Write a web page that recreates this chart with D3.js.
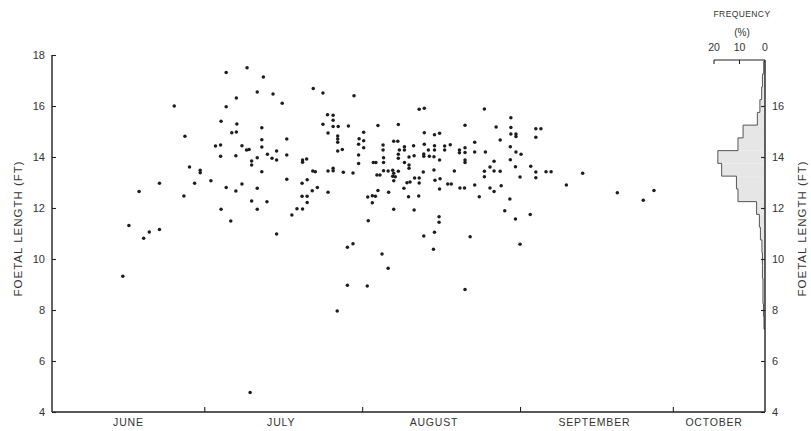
<!DOCTYPE html>
<html>
<head>
<meta charset="utf-8">
<script src="https://cdn.jsdelivr.net/npm/d3@7"></script>
<style>
  html, body { margin: 0; padding: 0; background: #fff; }
  svg { display: block; }
  text { font-family: "Liberation Sans", Arial, sans-serif; fill: #333; }
</style>
</head>
<body>
<svg id="chart" width="811" height="431"></svg>
<script>
// Catch date, as days after 1 June, and foetal length (ft) of each foetus
const catchDay = [
  38.3, 34.2, 36.2, 24.0, 34.2, 33.2, 36.3, 35.3, 36.2, 26.1, 32.1, 33.1, 37.3, 38.2, 38.7,
  33.1, 36.1, 27.0, 29.1, 29.1, 21.1, 28.0, 31.2, 34.2, 36.1, 37.3, 17.1, 25.9, 33.2, 35.1,
  15.1, 21.1, 19.1, 18.0, 13.9,
  41.5, 40.3, 43.4, 45.2, 51.3, 53.2, 59.3, 54.1, 55.2, 55.2, 53.2, 55.2, 56.2, 58.2, 54.2,
  56.1, 56.1, 56.1, 57.0, 56.1, 41.2, 46.1, 41.2, 41.2, 44.1, 46.1, 42.3, 43.2, 44.1, 40.3,
  39.2, 39.2, 41.2, 46.1, 49.2, 49.2, 50.0, 51.2, 51.7, 54.2, 55.2, 55.2, 57.2, 59.1, 49.1,
  50.1, 40.3, 51.1, 52.1, 54.2, 49.1, 50.1, 39.2, 42.2, 50.1, 40.3, 48.1, 49.2, 47.1, 44.1,
  58.0, 59.1,
  64.0, 68.0, 81.1, 61.2, 73.1, 75.1, 76.1, 60.3, 61.2, 67.1, 67.9, 60.2, 61.2, 65.0, 65.0,
  69.2, 69.2, 68.2, 71.0, 73.1, 73.9, 75.1, 75.1, 77.1, 77.1, 78.2, 80.0, 80.0, 81.1, 81.1,
  60.2, 60.2, 65.1, 65.1, 68.0, 68.0, 71.1, 70.1, 73.0, 73.0, 74.1, 75.0, 76.1, 81.1, 81.1,
  63.1, 63.6, 69.2, 70.1, 70.1, 66.0, 66.9, 68.0, 67.1, 65.1, 72.9, 75.0, 79.0, 63.8, 64.4,
  66.9, 67.4, 67.1, 71.2, 72.1, 69.7, 70.3, 72.1, 75.2, 76.2, 77.7, 78.4, 80.1, 81.0, 69.1,
  76.1, 64.0, 66.1, 62.0, 62.9, 63.5, 62.9, 70.0, 72.0, 67.1, 71.1, 76.0, 62.1, 72.1, 73.1,
  84.9, 90.1, 87.2, 90.1, 95.0, 96.0, 90.1, 91.1, 91.1, 95.0, 88.0, 83.0, 83.0, 85.1, 90.0,
  91.1, 92.1, 90.0, 86.8, 86.0, 86.8, 88.0, 84.9, 84.9, 91.0, 94.0, 95.0, 95.0, 97.0, 98.0,
  91.9, 104.2, 101.0, 83.0, 86.0, 86.8, 88.2, 83.9, 89.9, 88.9, 91.0, 93.9, 82.1, 91.9, 111.0,
  116.1, 118.2,
  64.8, 66.0, 61.9, 58.0, 73.0, 75.1, 74.9, 76.0, 81.1, 56.0, 38.9
];
const foetalLength = [
  17.50, 17.31, 16.31, 16.00, 15.97, 15.40, 15.29, 14.95, 14.98, 14.81, 14.43, 14.47, 14.44, 14.27, 14.29,
  14.03, 14.05, 13.61, 13.48, 13.38, 12.97, 12.97, 13.07, 12.80, 12.67, 12.94, 12.65, 12.47, 11.95, 11.49,
  11.31, 11.16, 11.06, 10.81, 9.32,
  17.14, 16.55, 16.47, 16.11, 16.69, 16.51, 16.40, 15.66, 15.64, 15.44, 15.28, 15.20, 15.20, 15.22, 14.94,
  14.82, 14.71, 14.58, 14.29, 14.24, 15.15, 14.71, 14.68, 14.39, 14.24, 14.08, 14.11, 13.95, 13.88, 13.97,
  13.84, 13.69, 13.42, 13.13, 13.88, 13.79, 13.92, 13.45, 13.42, 13.45, 13.56, 13.46, 13.40, 13.37, 12.97,
  13.11, 12.77, 12.68, 12.80, 12.62, 12.46, 12.46, 12.27, 12.25, 12.22, 11.95, 11.97, 11.96, 11.73, 10.98,
  10.46, 10.60,
  15.24, 15.27, 15.25, 14.97, 14.95, 14.87, 14.93, 14.72, 14.64, 14.62, 14.62, 14.50, 14.36, 14.47, 14.27,
  14.40, 14.27, 14.27, 14.44, 14.50, 14.27, 14.44, 14.27, 14.43, 14.27, 14.48, 14.27, 14.17, 14.36, 14.18,
  14.08, 13.75, 13.97, 13.78, 14.11, 13.95, 14.05, 14.00, 14.12, 14.03, 14.03, 14.01, 13.88, 13.88, 13.78,
  13.78, 13.78, 13.78, 13.69, 13.56, 13.45, 13.48, 13.44, 13.36, 13.46, 13.41, 13.49, 13.45, 13.29, 13.29,
  13.25, 13.23, 13.07, 13.18, 13.18, 12.99, 13.02, 12.98, 13.09, 13.15, 12.94, 12.94, 12.78, 12.78, 12.77,
  12.75, 12.69, 12.62, 12.43, 12.48, 12.46, 12.21, 12.44, 12.47, 11.95, 11.92, 11.66, 11.50, 15.87, 15.91,
  15.88, 15.54, 15.18, 15.16, 15.11, 15.11, 14.90, 14.90, 14.80, 14.77, 14.67, 14.58, 14.20, 14.20, 14.40,
  14.20, 14.11, 13.89, 13.83, 13.61, 13.45, 13.44, 13.44, 13.23, 13.62, 13.64, 13.41, 13.19, 13.42, 13.42,
  13.22, 13.36, 12.90, 12.90, 12.78, 12.65, 12.87, 12.44, 12.35, 11.89, 11.57, 11.75, 10.87, 10.58, 12.60,
  12.30, 12.69,
  10.20, 9.64, 8.94, 8.97, 10.90, 11.05, 10.38, 11.44, 8.80, 7.96, 4.76
];

// Frequency distribution of foetal length, 0.5 ft classes (class centre, %)
const histLength = [17.5, 17.0, 16.5, 16.0, 15.5, 15.0, 14.5, 14.0, 13.5, 13.0, 12.5, 12.0,
                    11.5, 11.0, 10.5, 10.0, 9.5, 9.0, 8.5, 8.0, 7.5];
const histFreq   = [0.5, 1.0, 1.3, 2.0, 3.0, 8.6, 10.6, 18.5, 17.0, 11.2, 10.6, 3.3,
                    2.2, 1.8, 1.2, 1.0, 1.0, 0.8, 0.8, 0.6, 0.4];

// Axes
const monthStartDays = [30, 61, 92, 122];
const monthNames = ["JUNE", "JULY", "AUGUST", "SEPTEMBER", "OCTOBER"];
const monthLabelDays = [15, 45, 75, 106.5, 130];
const leftTicks = [4, 6, 8, 10, 12, 14, 16, 18];
const rightTicks = [4, 6, 8, 10, 12, 14, 16];
const freqTicks = [20, 10, 0];

const svg = d3.select("#chart");
const x = d3.scaleLinear().domain([0, 140]).range([52, 765]);
const y = d3.scaleLinear().domain([4, 18]).range([412, 55]);
const freqTop = 60;                       // pixel row of the frequency axis
const xf = d3.scaleLinear().domain([0, 20]).range([765, 714]);

const ink = "#222";

// Histogram (grey fill with stepped outline)
const hist = svg.append("g");
hist.selectAll("rect").data(histLength).join("rect")
  .attr("x", (d, i) => xf(histFreq[i]))
  .attr("y", d => y(d + 0.25))
  .attr("width", (d, i) => xf(0) - xf(histFreq[i]))
  .attr("height", d => y(d - 0.25) - y(d + 0.25))
  .attr("fill", "#e6e6e6");
const outline = [];
histLength.forEach((c, i) => {
  outline.push([histFreq[i], c + 0.25]);
  outline.push([histFreq[i], c - 0.25]);
});
outline.unshift([0, histLength[0] + 0.25]);
outline.push([0, histLength[histLength.length - 1] - 0.25]);
hist.append("path")
  .attr("d", d3.line().x(d => xf(d[0])).y(d => y(d[1]))(outline))
  .attr("fill", "none").attr("stroke", "#555").attr("stroke-width", 1);

// Left axis
const leftAxis = d3.axisRight(y).tickValues(leftTicks).tickSize(4).tickFormat(d3.format("d"));
const gl = svg.append("g").attr("transform", `translate(${x(0)},0)`).call(leftAxis);
gl.select(".domain").remove();
gl.selectAll(".tick line").attr("stroke", ink).attr("stroke-width", 1.1);
gl.selectAll(".tick text").attr("x", -7).attr("text-anchor", "end")
  .attr("font-size", 11).attr("fill", "#333");
svg.append("line").attr("x1", x(0)).attr("x2", x(0)).attr("y1", y(18)).attr("y2", y(4))
  .attr("stroke", ink).attr("stroke-width", 1.4);

// Right axis
const rightAxis = d3.axisLeft(y).tickValues(rightTicks).tickSize(4).tickFormat(d3.format("d"));
const gr = svg.append("g").attr("transform", `translate(${x(140)},0)`).call(rightAxis);
gr.select(".domain").remove();
gr.selectAll(".tick line").attr("stroke", ink).attr("stroke-width", 1.1);
gr.selectAll(".tick text").attr("x", 7).attr("text-anchor", "start")
  .attr("font-size", 11).attr("fill", "#333");
svg.append("line").attr("x1", x(140)).attr("x2", x(140)).attr("y1", freqTop).attr("y2", y(4))
  .attr("stroke", ink).attr("stroke-width", 1.4);

// Bottom (date) axis
svg.append("line").attr("x1", x(0)).attr("x2", x(140)).attr("y1", y(4)).attr("y2", y(4))
  .attr("stroke", ink).attr("stroke-width", 1.4);
svg.append("g").selectAll("line").data(monthStartDays).join("line")
  .attr("x1", d => x(d)).attr("x2", d => x(d))
  .attr("y1", y(4)).attr("y2", y(4) - 5)
  .attr("stroke", ink).attr("stroke-width", 1.1);
svg.append("g").selectAll("text").data(monthNames).join("text")
  .attr("x", (d, i) => x(monthLabelDays[i]))
  .attr("y", 426)
  .attr("text-anchor", "middle")
  .attr("font-size", 10.5).attr("letter-spacing", 0.8)
  .text(d => d);

// Frequency axis on top of histogram
svg.append("line").attr("x1", xf(20)).attr("x2", xf(0)).attr("y1", freqTop).attr("y2", freqTop)
  .attr("stroke", ink).attr("stroke-width", 1.2);
svg.append("g").selectAll("line").data(freqTicks.filter(d => d > 0)).join("line")
  .attr("x1", d => xf(d)).attr("x2", d => xf(d))
  .attr("y1", freqTop).attr("y2", freqTop + 4)
  .attr("stroke", ink).attr("stroke-width", 1.1);
svg.append("g").selectAll("text").data(freqTicks).join("text")
  .attr("x", d => xf(d)).attr("y", freqTop - 9)
  .attr("text-anchor", "middle").attr("font-size", 10.5)
  .text(d => d);
svg.append("text").attr("x", 742).attr("y", 36).attr("text-anchor", "middle")
  .attr("font-size", 10).text("(%)");
svg.append("text").attr("x", 742).attr("y", 17).attr("text-anchor", "middle")
  .attr("font-size", 8.5).attr("letter-spacing", 0.4).attr("fill", "#555").text("FREQUENCY");

// Axis titles
svg.append("text")
  .attr("transform", `translate(22,${y(11.2)}) rotate(-90)`)
  .attr("text-anchor", "middle").attr("font-size", 11.5).attr("letter-spacing", 1)
  .text("FOETAL LENGTH (FT)");
svg.append("text")
  .attr("transform", `translate(806,${y(11.2)}) rotate(-90)`)
  .attr("text-anchor", "middle").attr("font-size", 11.5).attr("letter-spacing", 1)
  .text("FOETAL LENGTH (FT)");

// Foetuses
svg.append("g").selectAll("circle").data(catchDay).join("circle")
  .attr("cx", d => x(d))
  .attr("cy", (d, i) => y(foetalLength[i]))
  .attr("r", 1.75)
  .attr("fill", "#1c1c1c");
</script>
</body>
</html>
